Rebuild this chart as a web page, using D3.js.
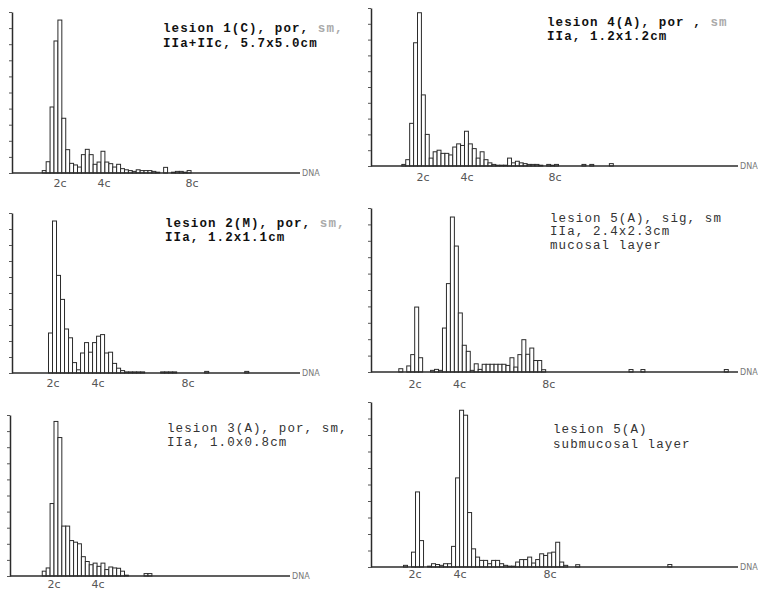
<!DOCTYPE html>
<html>
<head>
<meta charset="utf-8">
<script src="https://cdn.jsdelivr.net/npm/d3@7"></script>
<style>
  body { margin: 0; background: #fff; }
</style>
</head>
<body>
<div id="chart"></div>
<script>
// histogram bins are BIN c wide; each series starts at the bin centred on its *Start value (DNA content, c)
var BIN = 0.178;
var tickValues = [2, 4, 8];
var tickNames = ["2c", "4c", "8c"];

var lesion1Start = 1.282;
var lesion1 = [1.5, 7, 41, 82, 95, 34, 14.5, 6, 5, 3.7, 11.4, 14.7, 11.4, 5.4, 6.8, 13.5, 6.8, 5.8, 3.7, 5.4,
  2.7, 2, 1.5, 1, 2, 1.5, 1.5, 1.5, 1, 0.5, 0, 3.5, 0, 0.5, 1, 1, 0.5, 1.5];

var lesion2Start = 1.889;
var lesion2 = [25, 95, 61, 46, 27.5, 22, 6.5, 2, 12.5, 19, 13, 19, 23, 24, 12.5, 13, 6, 3, 1.5, 0.7,
  0.7, 0.7, 0.7, 0.7, 0, 0, 0, 0, 0.7, 0.7, 0.7, 0.7, 0, 0, 0, 0, 0, 0, 0, 1,
  0, 0, 0, 0, 0, 0, 0, 0, 0, 1];

var lesion3Start = 1.555;
var lesion3 = [3, 5, 45, 96, 86, 31, 31, 22, 21, 20, 12, 9, 7, 8, 6, 8, 4, 5.6, 5, 4.8,
  3, 0.5, 0, 0, 0, 0, 1.5, 1.5];

var lesion4Start = 1.127;
var lesion4 = [1, 4, 27, 78, 97, 45, 20, 5, 9, 10, 8, 8, 7, 12, 14, 13, 22, 14, 11, 5,
  9, 4, 2, 1, 0.5, 0.5, 0.5, 5, 2, 3, 2, 1.5, 1, 1, 1, 0.5, 0, 1, 0.5, 1,
  0, 0, 0, 0, 0, 0, 1, 0, 1, 0, 0, 0, 0, 1.5];

var lesion5mStart = 1.363;
var lesion5m = [2, 0, 3.7, 10.6, 39.6, 8.7, 0, 0, 1, 1.6, 1, 26.8, 53.9, 94.5, 76.8, 36, 16.3, 12.6, 1, 5,
  1.6, 4.7, 4.7, 4.7, 4.7, 4.7, 4.7, 4, 8.7, 3, 10.6, 19.7, 10.8, 14.6, 7, 7, 1.4, 0, 0, 0,
  0, 0, 0, 0, 0, 0, 0, 0, 0, 0, 0, 0, 0, 0, 0, 0, 0, 0, 1.5, 0,
  0, 1.5, 0, 0, 0, 0, 0, 0, 0, 0, 0, 0, 0, 0, 0, 0, 0, 0, 0, 0,
  0, 0, 1.5];

var lesion5sStart = 1.578;
var lesion5s = [1, 0, 9, 45.5, 16, 0, 0.5, 2, 1.5, 1, 2, 2, 12.5, 54, 95, 92, 33, 11, 6, 4,
  4, 2, 4, 4, 2, 1, 0.5, 0.5, 3, 4.5, 4.5, 6, 2.4, 4.5, 8, 7, 8.5, 9, 15, 3,
  1, 0, 0, 1.4, 0, 0, 0, 0, 0, 0, 0, 0, 0, 0, 0, 0, 0, 0, 0, 0,
  0, 0, 0, 0, 0, 0, 1.5];

// captions: [text, grey?] pieces per line
var caption1 = [[["lesion 1(C), por, ", 0], ["sm,", 1]], [["IIa+IIc, 5.7x5.0cm", 0]]];
var caption2 = [[["lesion 2(M), por, ", 0], ["sm,", 1]], [["IIa, 1.2x1.1cm", 0]]];
var caption3 = [[["lesion 3(A), por, sm,", 0]], [["IIa, 1.0x0.8cm", 0]]];
var caption4 = [[["lesion 4(A), por , ", 0], ["sm", 1]], [["IIa, 1.2x1.2cm", 0]]];
var caption5m = [[["lesion 5(A), sig, sm", 0]], [["IIa, 2.4x2.3cm", 0]], [["mucosal layer", 0]]];
var caption5s = [[["lesion 5(A)", 0]], [["submucosal layer", 0]]];

var width = 758, height = 591;

var svg = d3.select("#chart").append("svg")
    .attr("width", width)
    .attr("height", height);

// panel layout
var panels = [
  {counts: lesion1, start: lesion1Start, caption: caption1, bold: true, nTicks: 3,
   axisX: 12, top: 12, base: 173, xEnd: 300, x0: 16, k: 22, labelY: 187, capX: 163, capY: [31.5, 46.5]},
  {counts: lesion2, start: lesion2Start, caption: caption2, bold: true, nTicks: 3,
   axisX: 12, top: 213, base: 373, xEnd: 300, x0: 8, k: 22.5, labelY: 387, capX: 165, capY: [226.5, 240.5]},
  {counts: lesion3, start: lesion3Start, caption: caption3, bold: false, nTicks: 2,
   axisX: 10, top: 415, base: 576, xEnd: 290, x0: 10, k: 22, labelY: 587.5, capX: 167, capY: [432, 445.5]},
  {counts: lesion4, start: lesion4Start, caption: caption4, bold: true, nTicks: 3,
   axisX: 371, top: 8, base: 166, xEnd: 738, x0: 379, k: 22, labelY: 181, capX: 547, capY: [26, 39.5]},
  {counts: lesion5m, start: lesion5mStart, caption: caption5m, bold: false, nTicks: 3,
   axisX: 371, top: 208, base: 372, xEnd: 738, x0: 370.4, k: 22.3, labelY: 388, capX: 550, capY: [221.5, 235, 248.5]},
  {counts: lesion5s, start: lesion5sStart, caption: caption5s, bold: false, nTicks: 3,
   axisX: 371, top: 402, base: 567, xEnd: 738, x0: 370, k: 22.5, labelY: 578, capX: 553, capY: [432.5, 447.5]}
];

var ink = "#2b2b2b";

panels.forEach(function(p) {
    var x = d3.scaleLinear().domain([0, 1]).range([p.x0, p.x0 + p.k]);
    var y = d3.scaleLinear().domain([0, 100]).range([p.base, p.top]);
    var g = svg.append("g");

    var bins = p.counts.map(function(v, i) { return {c: p.start + i * BIN, v: v}; })
        .filter(function(d) { return d.v > 0; });

    g.selectAll(".bar")
        .data(bins)
        .enter().append("rect")
        .attr("class", "bar")
        .attr("x", function(d) { return x(d.c - BIN / 2); })
        .attr("width", x(BIN) - x(0))
        .attr("y", function(d) { return y(d.v); })
        .attr("height", function(d) { return y(0) - y(d.v); })
        .attr("fill", "#fff")
        .attr("stroke", ink)
        .attr("stroke-width", 1);

    // y axis with small ticks
    var yAxis = g.append("g")
        .attr("transform", "translate(" + p.axisX + ",0)")
        .call(d3.axisLeft(y).tickValues(d3.range(0, 101, 10)).tickSize(3).tickSizeOuter(0).tickFormat(""));
    yAxis.select(".domain").attr("stroke", ink).attr("stroke-width", 1.5);
    yAxis.selectAll(".tick line").attr("stroke", "#555");

    // baseline
    g.append("line")
        .attr("x1", p.axisX).attr("x2", p.xEnd)
        .attr("y1", p.base).attr("y2", p.base)
        .attr("stroke", ink).attr("stroke-width", 1.5);

    g.append("text")
        .attr("x", p.xEnd + 2).attr("y", p.base + 3)
        .attr("font-family", "DejaVu Sans, sans-serif")
        .attr("font-size", 8)
        .attr("fill", "#777")
        .text("DNA");

    // 2c / 4c / 8c labels
    g.selectAll(".xlab")
        .data(tickValues.slice(0, p.nTicks))
        .enter().append("text")
        .attr("class", "xlab")
        .attr("x", function(d) { return x(d); })
        .attr("y", p.labelY)
        .attr("text-anchor", "middle")
        .attr("font-family", "DejaVu Sans, sans-serif")
        .attr("font-size", 11)
        .attr("fill", "#555")
        .text(function(d, i) { return tickNames[i]; });

    // caption
    p.caption.forEach(function(line, li) {
        var t = g.append("text")
            .attr("x", p.capX).attr("y", p.capY[li])
            .attr("font-family", "Liberation Mono, Courier New, monospace")
            .attr("font-size", 12.5)
            .attr("letter-spacing", 1.1)
            .attr("font-weight", p.bold ? "bold" : "normal")
            .attr("xml:space", "preserve")
            .style("white-space", "pre");
        line.forEach(function(part) {
            t.append("tspan")
                .attr("fill", part[1] ? "#aaa" : (p.bold ? "#111" : "#333"))
                .text(part[0]);
        });
    });
});
</script>
</body>
</html>
